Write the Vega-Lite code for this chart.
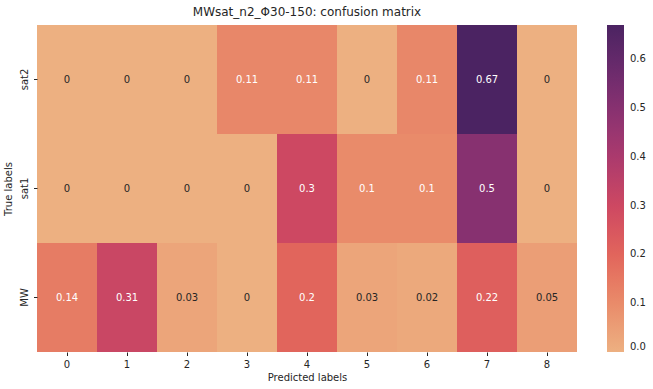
{
  "$schema": "https://vega.github.io/schema/vega-lite/v6.json",
  "autosize": {"type": "none"},
  "padding": {"left": 37, "top": 25, "right": 76, "bottom": 37},
  "width": 540,
  "height": 327,
  "background": "white",
  "config": {
    "view": {"stroke": null},
    "font": "DejaVu Sans",
    "axis": {"labelFont": "DejaVu Sans", "titleFont": "DejaVu Sans", "labelColor": "#262626", "titleColor": "#262626", "titleFontWeight": "normal", "labelFontSize": 10, "titleFontSize": 10, "tickColor": "#262626", "domain": false, "tickSize": 3.5, "grid": false},
    "legend": {"labelFont": "DejaVu Sans", "labelFontSize": 10, "labelColor": "#262626"}
  },
  "title": {"text": "MWsat_n2_Φ30-150: confusion matrix", "fontSize": 12, "fontWeight": "normal", "font": "DejaVu Sans", "color": "#262626", "offset": 6},
  "data": {"values": [
    {"true": "sat2", "pred": "0", "v": 0},
    {"true": "sat2", "pred": "1", "v": 0},
    {"true": "sat2", "pred": "2", "v": 0},
    {"true": "sat2", "pred": "3", "v": 0.11},
    {"true": "sat2", "pred": "4", "v": 0.11},
    {"true": "sat2", "pred": "5", "v": 0},
    {"true": "sat2", "pred": "6", "v": 0.11},
    {"true": "sat2", "pred": "7", "v": 0.67},
    {"true": "sat2", "pred": "8", "v": 0},
    {"true": "sat1", "pred": "0", "v": 0},
    {"true": "sat1", "pred": "1", "v": 0},
    {"true": "sat1", "pred": "2", "v": 0},
    {"true": "sat1", "pred": "3", "v": 0},
    {"true": "sat1", "pred": "4", "v": 0.3},
    {"true": "sat1", "pred": "5", "v": 0.1},
    {"true": "sat1", "pred": "6", "v": 0.1},
    {"true": "sat1", "pred": "7", "v": 0.5},
    {"true": "sat1", "pred": "8", "v": 0},
    {"true": "MW", "pred": "0", "v": 0.14},
    {"true": "MW", "pred": "1", "v": 0.31},
    {"true": "MW", "pred": "2", "v": 0.03},
    {"true": "MW", "pred": "3", "v": 0},
    {"true": "MW", "pred": "4", "v": 0.2},
    {"true": "MW", "pred": "5", "v": 0.03},
    {"true": "MW", "pred": "6", "v": 0.02},
    {"true": "MW", "pred": "7", "v": 0.22},
    {"true": "MW", "pred": "8", "v": 0.05}
  ]},
  "encoding": {
    "x": {"field": "pred", "type": "ordinal", "sort": ["0","1","2","3","4","5","6","7","8"], "scale": {"paddingInner": 0, "paddingOuter": 0}, "axis": {"title": "Predicted labels", "labelAngle": 0, "labelPadding": 4, "titlePadding": 3}},
    "y": {"field": "true", "type": "ordinal", "sort": ["sat2", "sat1", "MW"], "scale": {"paddingInner": 0, "paddingOuter": 0}, "axis": {"title": "True labels", "labelAngle": -90, "labelAlign": "center", "labelBaseline": "bottom", "labelPadding": 4, "titlePadding": 6}}
  },
  "layer": [
    {
      "mark": {"type": "rect"},
      "encoding": {
        "color": {"field": "v", "type": "quantitative", "scale": {"domain": [0, 0.67], "range": ["#edb081", "#e98d6b", "#e3685c", "#d14a61", "#b13c6c", "#8f3371", "#6c2b6d", "#4b2362"], "interpolate": "rgb"},
          "legend": {"type": "gradient", "title": null, "orient": "none", "legendX": 570, "legendY": 0, "gradientLength": 327, "gradientThickness": 17, "values": [0, 0.1, 0.2, 0.3, 0.4, 0.5, 0.6], "format": ".1f", "labelOffset": 6, "labelBaseline": "middle", "gradientStrokeWidth": 0}}
      }
    },
    {
      "mark": {"type": "text", "fontSize": 10, "font": "DejaVu Sans"},
      "encoding": {
        "text": {"field": "v", "type": "quantitative", "format": "~g"},
        "color": {"condition": {"test": "datum.v >= 0.08", "value": "white"}, "value": "#262626"}
      }
    }
  ]
}
